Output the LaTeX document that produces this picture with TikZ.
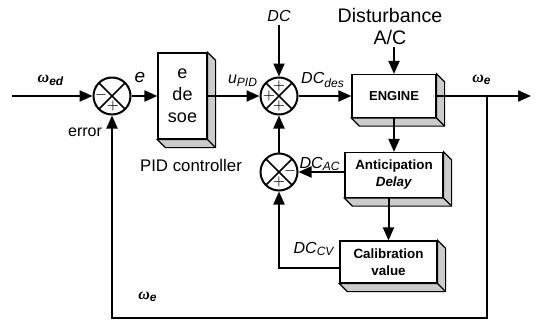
\documentclass[tikz,border=0pt]{standalone}
\usepackage{fontspec}
\setmainfont{Liberation Sans}
\newfontfamily\omegafont{Liberation Serif}
\usetikzlibrary{arrows.meta,positioning,calc}
\newcommand{\om}[1]{{\omegafont\bfseries\itshape ω}\textsubscript{\bfseries\itshape #1}}
\newcommand{\dcsub}[1]{\textit{DC}\textsubscript{\itshape #1}}
% 3d depth of a block, drawn to the lower right
\newcommand{\extrude}[1]{%
  \filldraw[fill=gray!40, line width=0.6pt] (#1.north east) -- ++(8,8)
    -- ($(#1.south east)+(8,8)$) -- ($(#1.south west)+(8,8)$)
    -- (#1.south west) -- (#1.south east) -- cycle;
  \draw[line width=0.6pt] (#1.south east) -- ++(8,8);}

\begin{document}
\begin{tikzpicture}[x=0.5pt, y=-0.5pt, line width=1pt,
  arr/.style={-{Triangle[length=6.5pt,width=5.5pt]}},
  sum/.style={circle, draw, line width=1pt, minimum size=18.5pt, inner sep=0pt,
    path picture={\draw[line width=0.8pt] (path picture bounding box.north west) -- (path picture bounding box.south east)
      (path picture bounding box.north east) -- (path picture bounding box.south west);}},
  sign/.style={font=\fontsize{7.5}{7.5}\selectfont, inner sep=0pt},
  block/.style={draw, fill=white, line width=0.6pt, align=center, inner sep=1pt},
  lbl/.style={font=\fontsize{8}{9.6}\selectfont, inner sep=1pt}]
  \useasboundingbox (0,0) rectangle (539,321);
  % summing junctions
  \node[sum] (sumIn) at (112,96) {};
  \node[sum] (sumDC) at (279,96) {};
  \node[sum] (sumFb) at (279,172) {};
  \node[sign] at ($(sumIn.center)+(-11,-1)$) {$-$};
  \node[sign] at ($(sumIn.center)+(1,10)$) {$+$};
  \node[sign] at ($(sumDC.center)+(0,-10)$) {$+$};
  \node[sign] at ($(sumDC.center)+(-10,0)$) {$+$};
  \node[sign] at ($(sumDC.center)+(0,10)$) {$+$};
  \node[sign] at ($(sumFb.center)+(11,-1)$) {$-$};
  \node[sign] at ($(sumFb.center)+(0,10)$) {$+$};
  % blocks
  \node[block, minimum width=24.5pt, minimum height=43pt,
    font=\fontsize{9}{11}\selectfont] (pid) at (182.5,96) {e\\de\\soe};
  \node[block, minimum width=42pt, minimum height=21.5pt,
    font=\fontsize{6.5}{8}\selectfont\bfseries] (engine) at (394,96) {ENGINE};
  \node[block, minimum width=49pt, minimum height=22.5pt,
    font=\fontsize{6.7}{8.5}\selectfont\bfseries] (antic) at (394,175) {Anticipation\\\textit{Delay}};
  \node[block, minimum width=48.5pt, minimum height=21pt,
    font=\fontsize{6.7}{8.5}\selectfont\bfseries] (calib) at (388.5,262) {Calibration\\value};
  \extrude{pid}
  \extrude{engine}
  \extrude{antic}
  \extrude{calib}
  % free ends of the connectors
  \coordinate (in) at (12,96);
  \coordinate (out) at (531,96);
  \coordinate (tap) at (487,96);
  \coordinate (tapLow) at (487,318);
  % labels
  \node[lbl] (wed) at (51,80) {\om{ed}};
  \node[lbl, font=\fontsize{9.5}{10}\selectfont\itshape] (eLbl) at (140,77) {e};
  \node[lbl] (errLbl) at (85,132) {error};
  \node[lbl] (upid) at (243,81) {\textit{u}\textsubscript{\itshape PID}};
  \node[lbl, font=\fontsize{8}{9.6}\selectfont\itshape] (dcLbl) at (279,16) {DC};
  \node[lbl, font=\fontsize{9.8}{11}\selectfont, align=center] (dist) at (390,26) {Disturbance\\A/C};
  \node[lbl] (dcdes) at (323,80) {\dcsub{des}};
  \node[lbl] (weOut) at (482,80) {\om{e}};
  \node[lbl] (dcac) at (320,164) {\dcsub{AC}};
  \node[lbl] (dccv) at (314,249) {\dcsub{CV}};
  \node[lbl, font=\fontsize{8.4}{10}\selectfont] (pidLbl) at (191,165) {PID controller};
  \node[lbl] (weFb) at (148,297) {\om{e}};
  % connectors
  \draw[arr] (in) -- (sumIn);
  \draw[arr] (sumIn) -- (pid);
  \draw[arr] (pid.east) -- (sumDC);
  \draw[arr] (dcLbl.south) -- (sumDC.north);
  \draw[arr] (sumDC) -- (engine);
  \draw[arr] (dist.south -| engine.north) -- (engine.north);
  \draw[arr] (engine.east) -- (out);
  \draw[arr] (tap) -- (tapLow) -| (sumIn.south);
  \draw[arr] (engine.south) -- (antic.north);
  \draw[arr] (antic.west |- sumFb) -- (sumFb.east);
  \draw[arr] (antic.south -| calib.north) -- (calib.north);
  \draw[arr] ($(calib.west)+(0,6)$) -| (sumFb.south);
  \draw[arr] (sumFb.north) -- (sumDC.south);
\end{tikzpicture}
\end{document}
